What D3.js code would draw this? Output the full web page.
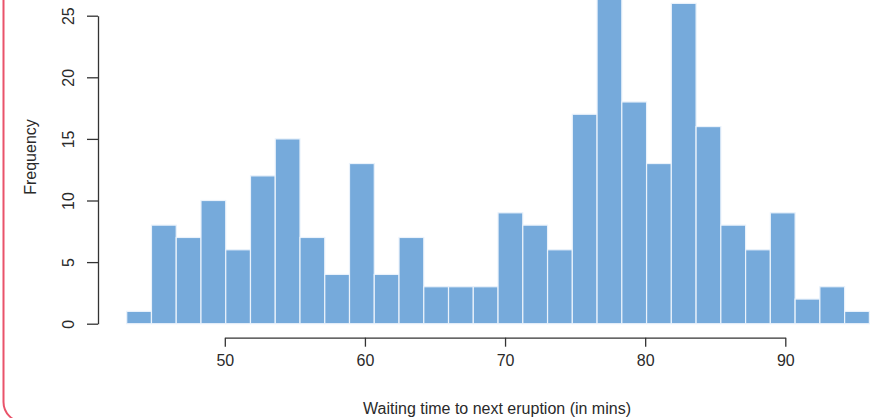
<!DOCTYPE html>
<html>
<head>
<meta charset="utf-8">
<script src="https://cdn.jsdelivr.net/npm/d3@7"></script>
<style>
  body { margin: 0; background: #fff; }
  text { font-family: "Liberation Sans", Arial, sans-serif; }
</style>
</head>
<body>
<svg id="hist" width="884" height="418"></svg>
<script>
// bins: 30 equal breaks from min to max waiting time
var binStart = 43,
    binEnd = 96,
    binCount = 30;

// counts per bin
var counts = [1, 8, 7, 10, 6, 12, 15, 7, 4, 13, 4, 7, 3, 3, 3, 9, 8, 6, 17, 27, 18, 13, 26, 16, 8, 6, 9, 2, 3, 1];

var xTicks = [50, 60, 70, 80, 90],
    yTicks = [0, 5, 10, 15, 20, 25];

var xLabel = "Waiting time to next eruption (in mins)",
    yLabel = "Frequency";

var svg = d3.select("#hist"),
    width = +svg.attr("width"),
    height = +svg.attr("height");

var binWidth = (binEnd - binStart) / binCount;
var bins = counts.map(function(c, i) {
    return { x0: binStart + i * binWidth, x1: binStart + (i + 1) * binWidth, n: c };
});

// scales
var x = d3.scaleLinear().domain([50, 90]).range([224.8, 785.3]),
    y = d3.scaleLinear().domain([0, 25]).range([323.7, 15.7]);

// the pink frame around the card (only left side + corner show)
svg.append("rect")
    .attr("x", 3.5)
    .attr("y", -40)
    .attr("width", 1000)
    .attr("height", 462)
    .attr("rx", 20)
    .attr("fill", "none")
    .attr("stroke", "#e9536a")
    .attr("stroke-width", 2);

// bars
svg.append("g")
    .selectAll("rect")
    .data(bins)
    .join("rect")
    .attr("x", function(d) { return x(d.x0); })
    .attr("y", function(d) { return y(d.n); })
    .attr("width", function(d) { return x(d.x1) - x(d.x0); })
    .attr("height", function(d) { return y(0) - y(d.n); })
    .attr("fill", "#76aadb")
    .attr("stroke", "#eaf2fb")
    .attr("stroke-width", 1.2);

// x axis, R style: detached below the bars
var xAxis = svg.append("g")
    .attr("transform", "translate(0,337.7)")
    .call(d3.axisBottom(x).tickValues(xTicks).tickSize(9).tickSizeOuter(0).tickPadding(8));

// y axis
var yAxis = svg.append("g")
    .attr("transform", "translate(98,0)")
    .call(d3.axisLeft(y).tickValues(yTicks).tickSize(11).tickSizeOuter(0).tickPadding(0));

[xAxis, yAxis].forEach(function(a) {
    a.select(".domain").attr("stroke", "#333").attr("stroke-width", 1.3);
    a.selectAll(".tick line").attr("stroke", "#333").attr("stroke-width", 1.3);
    a.selectAll("text").attr("font-size", 16).attr("fill", "#2a2a2a")
        .attr("font-family", "'Liberation Sans', Arial, sans-serif");
});

// rotated y tick labels like base R
yAxis.selectAll(".tick text")
    .attr("x", null).attr("dy", null)
    .attr("text-anchor", "middle")
    .attr("transform", "translate(-30,0) rotate(-90)")
    .attr("dy", "0.35em");

xAxis.selectAll(".tick text").attr("dy", "0.71em");

// titles
svg.append("text")
    .attr("x", 497)
    .attr("y", 414)
    .attr("text-anchor", "middle")
    .attr("font-size", 16)
    .attr("fill", "#2a2a2a")
    .text(xLabel);

svg.append("text")
    .attr("transform", "translate(36,157) rotate(-90)")
    .attr("text-anchor", "middle")
    .attr("font-size", 16)
    .attr("fill", "#2a2a2a")
    .text(yLabel);
</script>
</body>
</html>
